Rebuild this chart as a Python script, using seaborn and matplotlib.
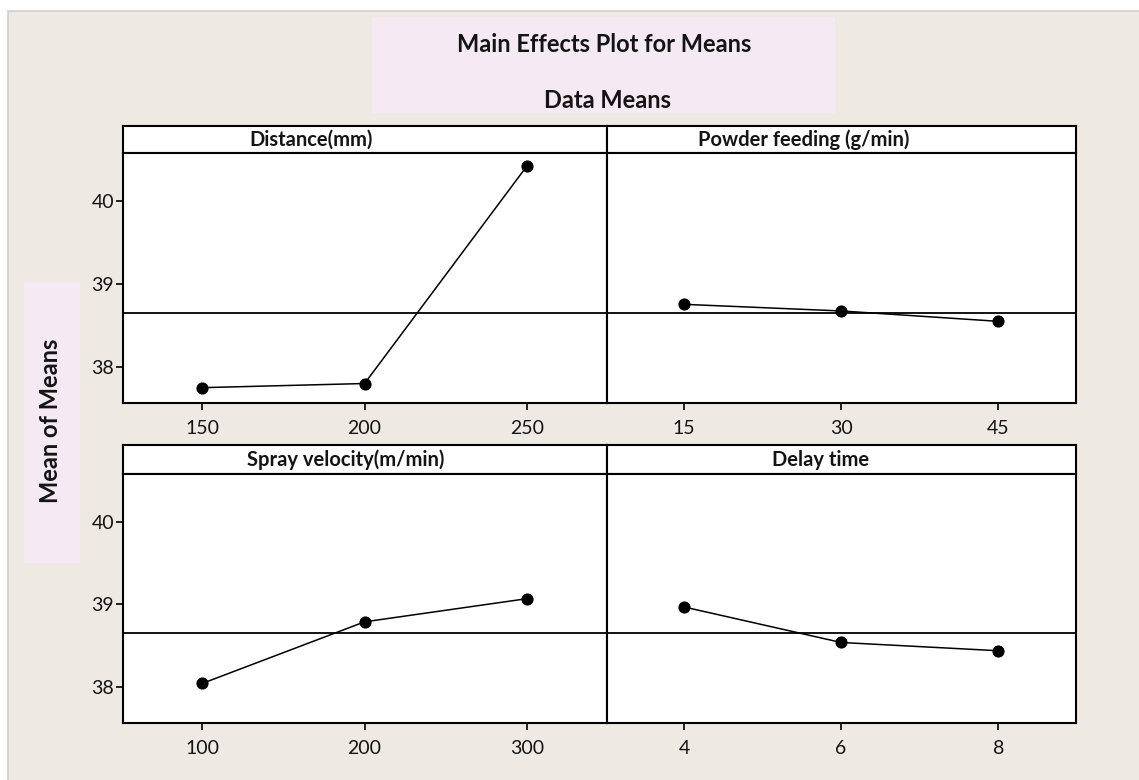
import numpy as np
import pandas as pd
import matplotlib
matplotlib.use("Agg")
import matplotlib.pyplot as plt
from matplotlib.patches import Rectangle
import seaborn as sns

# ---- data ----
distance_levels = [150, 200, 250]
distance_means = [37.75, 37.80, 40.42]
powder_levels = [15, 30, 45]
powder_means = [38.755, 38.675, 38.55]
spray_levels = [100, 200, 300]
spray_means = [38.045, 38.79, 39.07]
delay_levels = [4, 6, 8]
delay_means = [38.97, 38.54, 38.44]
panel_titles = ["Distance(mm)", "Powder feeding (g/min)", "Spray velocity(m/min)", "Delay time"]
y_ticks = [38, 39, 40]
title_text = "Main Effects Plot for Means"
subtitle_text = "Data Means"
ylabel_text = "Mean of Means"

grand_mean = np.mean(distance_means + powder_means + spray_means + delay_means)

sns.set_theme(style="white")
plt.rcParams['font.family'] = ['Lato', 'DejaVu Sans']
plt.rcParams['text.color'] = '#141414'
plt.rcParams['xtick.labelcolor'] = '#141414'
plt.rcParams['ytick.labelcolor'] = '#141414'

W, H = 1139, 780
fig = plt.figure(figsize=(W / 100, H / 100), dpi=100, facecolor="white")

BEIGE = "#EEE9E3"
PINK = "#F5EAF4"


def frac(x, y, w, h):
    return [x / W, 1 - (y + h) / H, w / W, h / H]


# background panel
fig.patches.append(Rectangle((8 / W, -0.01), 1.02 - 8 / W, 1.01 - 11 / H, transform=fig.transFigure,
                             facecolor=BEIGE, edgecolor="#CFCFCF", linewidth=1.2, zorder=-10))
# title box
fig.patches.append(Rectangle((372 / W, 1 - 113 / H), (835 - 372) / W, (113 - 17) / H,
                             transform=fig.transFigure, facecolor=PINK, edgecolor="none", zorder=-5))
fig.text(604 / W, 1 - 44 / H, title_text, ha="center", va="center", fontsize=17, fontweight="bold")
fig.text(607 / W, 1 - 100 / H, subtitle_text, ha="center", va="center", fontsize=17, fontweight="bold")

# y label box
fig.patches.append(Rectangle((24 / W, 1 - 563 / H), (80 - 24) / W, (563 - 282) / H,
                             transform=fig.transFigure, facecolor=PINK, edgecolor="none", zorder=-5))
fig.text(51 / W, 1 - 421 / H, ylabel_text, ha="center", va="center", rotation=90,
         fontsize=17, fontweight="bold")

panels = [
    (distance_levels, distance_means, panel_titles[0], (123, 126, 484, 27, 250), 0.388, True),
    (powder_levels, powder_means, panel_titles[1], (607, 126, 469, 27, 250), 0.419, False),
    (spray_levels, spray_means, panel_titles[2], (123, 445, 484, 29, 249), 0.461, True),
    (delay_levels, delay_means, panel_titles[3], (607, 445, 469, 29, 249), 0.456, False),
]

for levels, means, ttl, (x, y, w, hs, hp), tx, show_y in panels:
    # strip
    sax = fig.add_axes(frac(x, y, w, hs))
    sax.set_facecolor("white")
    sax.set_xticks([]); sax.set_yticks([])
    for sp in sax.spines.values():
        sp.set_linewidth(1.5); sp.set_color("black")
    sax.text(tx, 0.5, ttl, transform=sax.transAxes, ha="center", va="center",
             fontsize=14.5, fontweight="bold")

    ax = fig.add_axes(frac(x, y + hs, w, hp))
    ax.set_facecolor("white")
    df = pd.DataFrame({"level": levels, "mean": means})
    ax.axhline(grand_mean, color="black", linewidth=1.3, zorder=1)
    sns.lineplot(data=df, x="level", y="mean", ax=ax, color="black", linewidth=1.1,
                 marker="o", markersize=8, markeredgecolor="black", zorder=3)
    step = levels[1] - levels[0]
    ax.set_xlim(levels[0] - 0.49 * step, levels[-1] + 0.495 * step)
    ax.set_ylim(37.565, 40.58)
    ax.set_xticks(levels)
    ax.set_xticklabels([str(v) for v in levels])
    ax.set_xlabel(""); ax.set_ylabel("")
    ax.tick_params(axis="x", direction="out", length=5, width=1.2, pad=7,
                   labelsize=14, color="black", bottom=True)
    if show_y:
        ax.set_yticks(y_ticks)
        ax.set_yticklabels([str(v) for v in y_ticks])
        ax.tick_params(axis="y", direction="out", length=5, width=1.2, pad=1.5,
                       labelsize=14, color="black", left=True)
    else:
        ax.set_yticks([])
    for sp in ax.spines.values():
        sp.set_linewidth(1.5); sp.set_color("black")

fig.savefig("out.png", dpi=100, facecolor="white")
